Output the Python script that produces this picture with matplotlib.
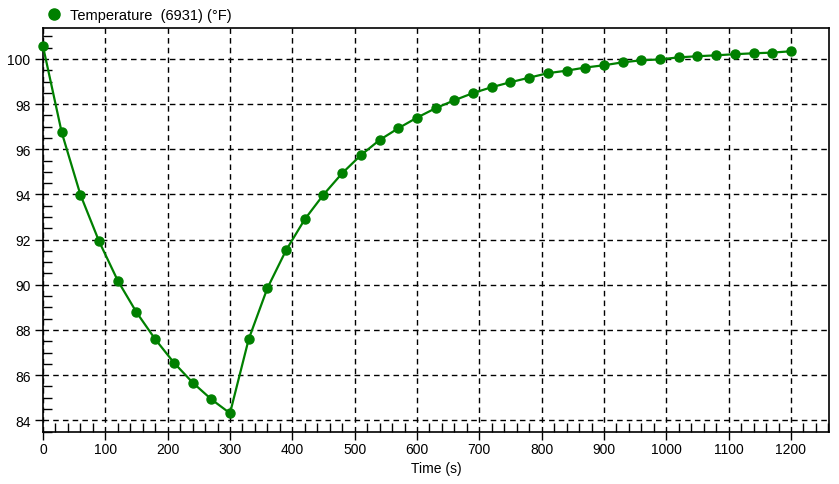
import matplotlib
matplotlib.use("Agg")
from matplotlib import pyplot as plt
from matplotlib.lines import Line2D
from matplotlib.ticker import MultipleLocator

time_s = [0, 30, 60, 90, 120, 150, 180, 210, 240, 270, 300, 330, 360, 390, 420,
          450, 480, 510, 540, 570, 600, 630, 660, 690, 720, 750, 780, 810, 840,
          870, 900, 930, 960, 990, 1020, 1050, 1080, 1110, 1140, 1170, 1200]
temp_f = [100.56, 96.75, 93.99, 91.92, 90.18, 88.78, 87.59, 86.55, 85.67, 84.93,
          84.31, 87.59, 89.85, 91.53, 92.90, 93.99, 94.94, 95.74, 96.41, 96.93,
          97.40, 97.82, 98.17, 98.49, 98.75, 98.97, 99.17, 99.37, 99.48, 99.62,
          99.72, 99.85, 99.94, 99.98, 100.07, 100.12, 100.16, 100.21, 100.25,
          100.28, 100.34]
series_label = "Temperature  (6931) (°F)"
green = "#008000"

plt.rcParams['font.family'] = ['Liberation Sans', 'DejaVu Sans']

fig = plt.figure(figsize=(8.39, 4.85), dpi=100)
ax = fig.add_axes([43/839, 1 - 433/485, (829 - 43)/839, (433 - 29)/485])

ax.plot(time_s, temp_f, color=green, linewidth=1.6, marker='o',
        markersize=6.5, zorder=3, clip_on=False)

ax.set_xlim(0, 1261)
ax.set_ylim(83.48, 101.37)
ax.xaxis.set_major_locator(MultipleLocator(100))
ax.xaxis.set_minor_locator(MultipleLocator(20))
ax.yaxis.set_major_locator(MultipleLocator(2))
ax.yaxis.set_minor_locator(MultipleLocator(0.5))
ax.tick_params(which='both', labelsize=10, colors='black', width=1)
ax.tick_params(which='major', direction='out', length=6)
ax.tick_params(which='minor', direction='in', length=6.5)
ax.tick_params(axis='y', which='major', pad=3)
ax.tick_params(axis='x', which='major', pad=1.5)
ax.grid(True, which='major', color='black', linestyle=(0, (4, 3)), linewidth=1)
for s in ax.spines.values():
    s.set_linewidth(1.2)

ax.set_xlabel("Time (s)", fontsize=10, labelpad=3)

handle = Line2D([], [], color=green, marker='o', linestyle='none', markersize=8)
fig.legend([handle], [series_label], loc='center left',
           bbox_to_anchor=(38/839, 1 - 16/485), frameon=False, fontsize=10.5,
           handletextpad=0.5, borderpad=0, handlelength=1.2)

fig.savefig("out.png", dpi=100)
